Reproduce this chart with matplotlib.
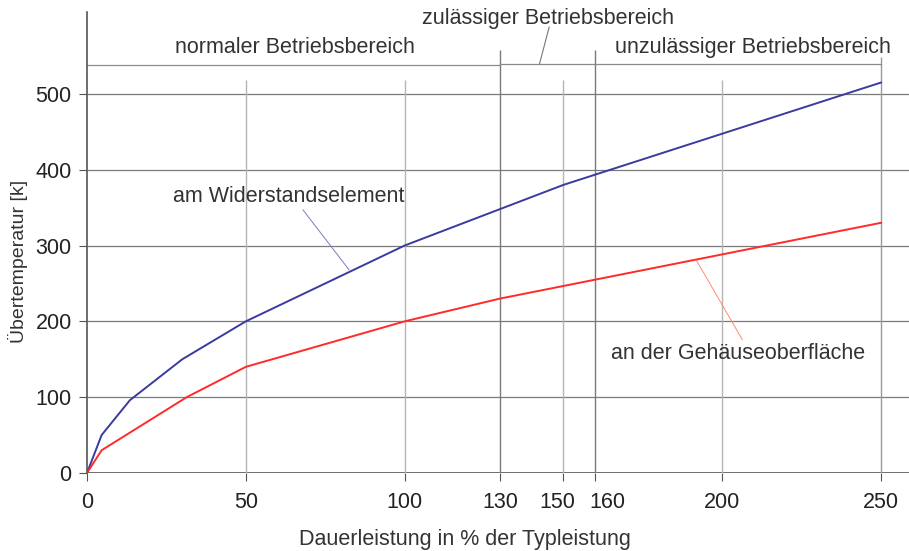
import matplotlib.pyplot as plt
import matplotlib.transforms as mtransforms

plt.rcParams["font.family"] = ["Liberation Sans", "DejaVu Sans"]

# Daten
x_ticks = [0, 50, 100, 130, 150, 160, 200, 250]
y_ticks = [0, 100, 200, 300, 400, 500]

x_element = [0, 4.6, 13.5, 30, 50, 75, 100, 150, 250]
y_element = [0, 50, 96, 150, 200, 250, 300, 380, 515]

x_gehaeuse = [0, 4.6, 31.4, 50, 100, 130, 250]
y_gehaeuse = [0, 30, 100, 140, 200, 230, 330]

fig = plt.figure(figsize=(9.09, 5.51), dpi=100)
ax = fig.add_axes([87 / 909, 1 - 473 / 551, 1 - 87 / 909, (473 - 12) / 551])
ax.set_xlim(0, 258.8)
ax.set_ylim(0, 608)

for s in ["top", "right", "bottom"]:
    ax.spines[s].set_visible(False)
ax.spines["left"].set_color("#555555")
ax.spines["left"].set_linewidth(1.2)

# Gitter
ax.hlines(y_ticks[1:], 0, 258.8, color="#7a7a7a", lw=0.9, zorder=1)
ax.hlines(0, 0, 258.8, color="#555555", lw=1.2, zorder=1)
ax.vlines([50, 100, 150, 200], 0, 518, color="#b5b5b5", lw=1.0, zorder=1)
ax.vlines([130, 160], 0, 558, color="#7a7a7a", lw=1.0, zorder=1)
ax.vlines(250, 0, 549, color="#9a9a9a", lw=1.0, zorder=1)

# Bereiche
ax.plot([0, 130], [538, 538], color="#8a8a8a", lw=0.9)
ax.plot([130, 250], [540, 540], color="#8a8a8a", lw=0.9)
ax.plot([142.5, 145.5], [540, 588], color="#777777", lw=0.8)
ax.text(65.5, 561, "normaler Betriebsbereich", ha="center", va="center", fontsize=15.5, color="#333333")
ax.text(145, 599, "zulässiger Betriebsbereich", ha="center", va="center", fontsize=15.5, color="#333333")
ax.text(209.7, 561, "unzulässiger Betriebsbereich", ha="center", va="center", fontsize=15.5, color="#333333")

# Kurven
ax.plot(x_element, y_element, color="#3a3aa0", lw=1.4, zorder=3)
ax.plot(x_gehaeuse, y_gehaeuse, color="#ff2a2a", lw=1.4, zorder=3)

ax.plot([82.5, 68], [268, 347], color="#7a7ac8", lw=0.7)
ax.text(63.6, 365, "am Widerstandselement", ha="center", va="center", fontsize=15.5, color="#333333")
ax.plot([191.8, 206.3], [281, 176], color="#ff8a70", lw=0.7)
ax.text(205, 157, "an der Gehäuseoberfläche", ha="center", va="center", fontsize=15.5, color="#333333")

ax.set_xticks(x_ticks)
ax.set_xticklabels([str(v) for v in x_ticks])
ax.set_yticks(y_ticks)
ax.tick_params(axis="both", labelsize=15.5, colors="#555555", labelcolor="#222222")
ax.tick_params(axis="y", length=6, pad=5)
ax.tick_params(axis="x", length=6, pad=8, direction="out")

# 150 und 160 etwas auseinander schieben
shift = {150: -6, 160: 12}
for lbl, v in zip(ax.get_xticklabels(), x_ticks):
    if v in shift:
        off = mtransforms.ScaledTranslation(shift[v] / 100, 0, fig.dpi_scale_trans)
        lbl.set_transform(lbl.get_transform() + off)

fig.text(465 / 909, 1 - 540 / 551, "Dauerleistung in % der Typleistung",
         ha="center", va="center", fontsize=15.5, color="#333333")
fig.text(18 / 909, 1 - 261 / 551, "Übertemperatur [k]", rotation=90,
         ha="center", va="center", fontsize=14, color="#333333")

fig.savefig("out.png", dpi=100)
